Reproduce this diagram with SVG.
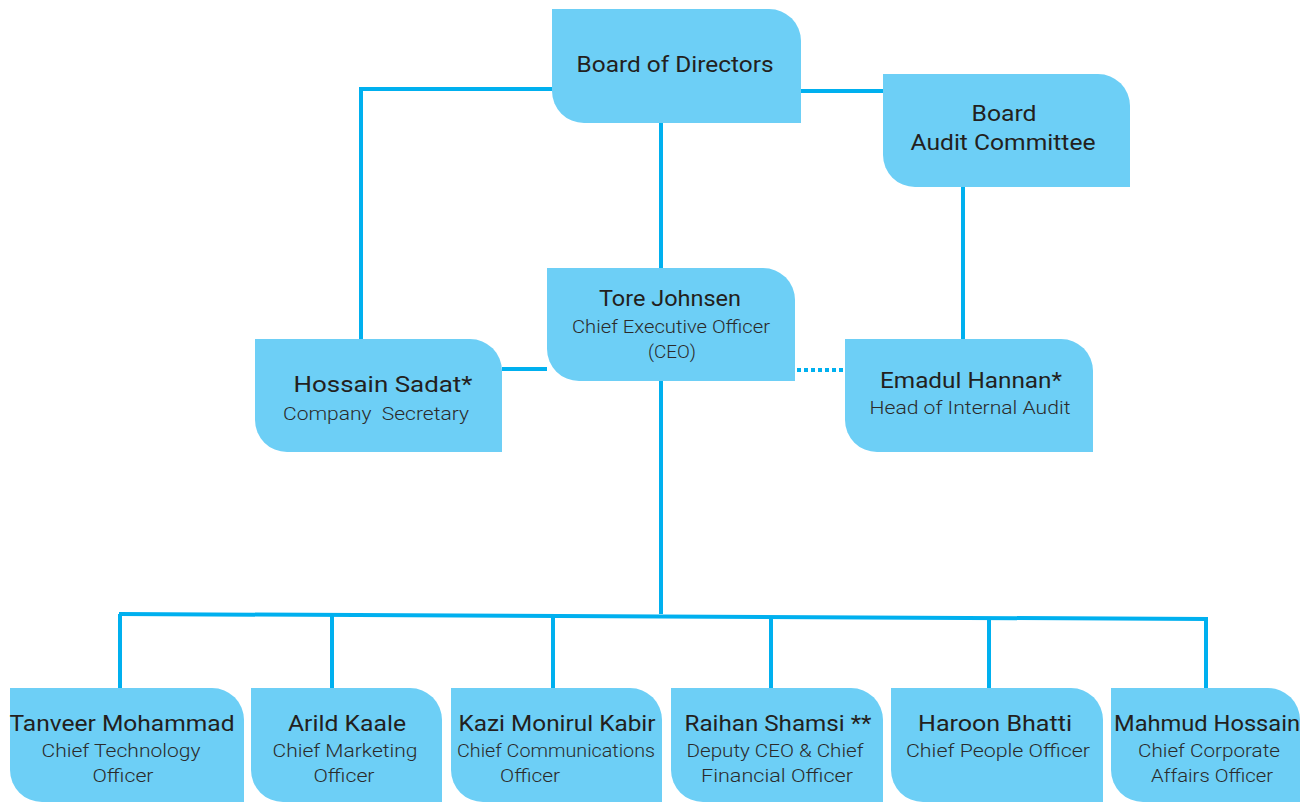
<svg xmlns="http://www.w3.org/2000/svg" width="1314" height="802" viewBox="0 0 1314 802">
<style>
.box{fill:#6dcff6}
.t{font-family:Roboto,"Liberation Sans",sans-serif;font-size:22px;fill:#231f20;text-anchor:middle}
.s{font-family:Roboto,"Liberation Sans",sans-serif;font-weight:300;font-size:19px;fill:#2b2b2b;text-anchor:middle}
.c{stroke:#00b0ef;stroke-width:4;fill:none}
.d{stroke:#00b0ef;stroke-width:4;fill:none;stroke-dasharray:4 3}
</style>
<rect width="1314" height="802" fill="#ffffff"/>
<g id="connectors">
<polyline class="c" points="361,339 361,89 552,89"/>
<line class="c" x1="801" y1="91" x2="883" y2="91"/>
<line class="c" x1="661" y1="123" x2="661" y2="268"/>
<line class="c" x1="963" y1="187" x2="963" y2="339"/>
<line class="c" x1="502" y1="369" x2="547" y2="369"/>
<line class="d" x1="797" y1="370" x2="845" y2="370"/>
<line class="c" x1="661" y1="381" x2="661" y2="614"/>
<line class="c" x1="119" y1="614" x2="1208" y2="619"/>
<line class="c" x1="120" y1="614" x2="120" y2="688"/>
<line class="c" x1="332" y1="615" x2="332" y2="688"/>
<line class="c" x1="553" y1="616" x2="553" y2="688"/>
<line class="c" x1="771" y1="617" x2="771" y2="688"/>
<line class="c" x1="989" y1="618" x2="989" y2="688"/>
<line class="c" x1="1206" y1="619" x2="1206" y2="688"/>
</g>
<g id="board">
<path class="box" d="M552 9 H769 A32 32 0 0 1 801 41 V123 H584 A32 32 0 0 1 552 91 Z"/>
<text class="t" x="675" y="72" textLength="197" lengthAdjust="spacingAndGlyphs">Board of Directors</text>
</g>
<g id="audit">
<path class="box" d="M883 74 H1098 A32 32 0 0 1 1130 106 V187 H915 A32 32 0 0 1 883 155 Z"/>
<text class="t" x="1004" y="121" textLength="65" lengthAdjust="spacingAndGlyphs">Board</text>
<text class="t" x="1003" y="150" textLength="185" lengthAdjust="spacingAndGlyphs">Audit Committee</text>
</g>
<g id="ceo">
<path class="box" d="M547 268 H763 A32 32 0 0 1 795 300 V381 H579 A32 32 0 0 1 547 349 Z"/>
<text class="t" x="670" y="306" textLength="142" lengthAdjust="spacingAndGlyphs">Tore Johnsen</text>
<text class="s" x="671" y="333" textLength="198" lengthAdjust="spacingAndGlyphs">Chief Executive Officer</text>
<text class="s" x="672" y="358" textLength="48" lengthAdjust="spacingAndGlyphs">(CEO)</text>
</g>
<g id="secretary">
<path class="box" d="M255 339 H470 A32 32 0 0 1 502 371 V452 H287 A32 32 0 0 1 255 420 Z"/>
<text class="t" x="383" y="392" textLength="179" lengthAdjust="spacingAndGlyphs">Hossain Sadat*</text>
<text class="s" x="376" y="420" textLength="186" lengthAdjust="spacingAndGlyphs" style="white-space:pre">Company  Secretary</text>
</g>
<g id="internal-audit">
<path class="box" d="M845 339 H1061 A32 32 0 0 1 1093 371 V452 H877 A32 32 0 0 1 845 420 Z"/>
<text class="t" x="971" y="388" textLength="182" lengthAdjust="spacingAndGlyphs">Emadul Hannan*</text>
<text class="s" x="970" y="414" textLength="201" lengthAdjust="spacingAndGlyphs">Head of Internal Audit</text>
</g>
<g id="cto">
<path class="box" d="M10 688 H212 A32 32 0 0 1 244 720 V802 H42 A32 32 0 0 1 10 770 Z"/>
<text class="t" x="122" y="731" textLength="225" lengthAdjust="spacingAndGlyphs">Tanveer Mohammad</text>
<text class="s" x="121" y="757" textLength="159" lengthAdjust="spacingAndGlyphs">Chief Technology</text>
<text class="s" x="123" y="782" textLength="61" lengthAdjust="spacingAndGlyphs">Officer</text>
</g>
<g id="cmo">
<path class="box" d="M251 688 H410 A32 32 0 0 1 442 720 V802 H283 A32 32 0 0 1 251 770 Z"/>
<text class="t" x="347" y="731" textLength="118" lengthAdjust="spacingAndGlyphs">Arild Kaale</text>
<text class="s" x="345" y="757" textLength="145" lengthAdjust="spacingAndGlyphs">Chief Marketing</text>
<text class="s" x="344" y="782" textLength="61" lengthAdjust="spacingAndGlyphs">Officer</text>
</g>
<g id="cco">
<path class="box" d="M451 688 H630 A32 32 0 0 1 662 720 V802 H483 A32 32 0 0 1 451 770 Z"/>
<text class="t" x="557" y="731" textLength="197" lengthAdjust="spacingAndGlyphs">Kazi Monirul Kabir</text>
<text class="s" x="556" y="757" textLength="198" lengthAdjust="spacingAndGlyphs">Chief Communications</text>
<text class="s" x="530" y="782" textLength="60" lengthAdjust="spacingAndGlyphs">Officer</text>
</g>
<g id="cfo">
<path class="box" d="M671 688 H851 A32 32 0 0 1 883 720 V802 H703 A32 32 0 0 1 671 770 Z"/>
<text class="t" x="778" y="731" textLength="187" lengthAdjust="spacingAndGlyphs">Raihan Shamsi **</text>
<text class="s" x="775" y="757" textLength="177" lengthAdjust="spacingAndGlyphs">Deputy CEO &amp; Chief</text>
<text class="s" x="777" y="782" textLength="152" lengthAdjust="spacingAndGlyphs">Financial Officer</text>
</g>
<g id="cpo">
<path class="box" d="M891 688 H1071 A32 32 0 0 1 1103 720 V802 H923 A32 32 0 0 1 891 770 Z"/>
<text class="t" x="995" y="731" textLength="154" lengthAdjust="spacingAndGlyphs">Haroon Bhatti</text>
<text class="s" x="998" y="757" textLength="184" lengthAdjust="spacingAndGlyphs">Chief People Officer</text>
</g>
<g id="ccao">
<path class="box" d="M1111 688 H1268 A32 32 0 0 1 1300 720 V802 H1143 A32 32 0 0 1 1111 770 Z"/>
<text class="t" x="1207" y="731" textLength="186" lengthAdjust="spacingAndGlyphs">Mahmud Hossain</text>
<text class="s" x="1209" y="757" textLength="142" lengthAdjust="spacingAndGlyphs">Chief Corporate</text>
<text class="s" x="1212" y="782" textLength="122" lengthAdjust="spacingAndGlyphs">Affairs Officer</text>
</g>
</svg>
